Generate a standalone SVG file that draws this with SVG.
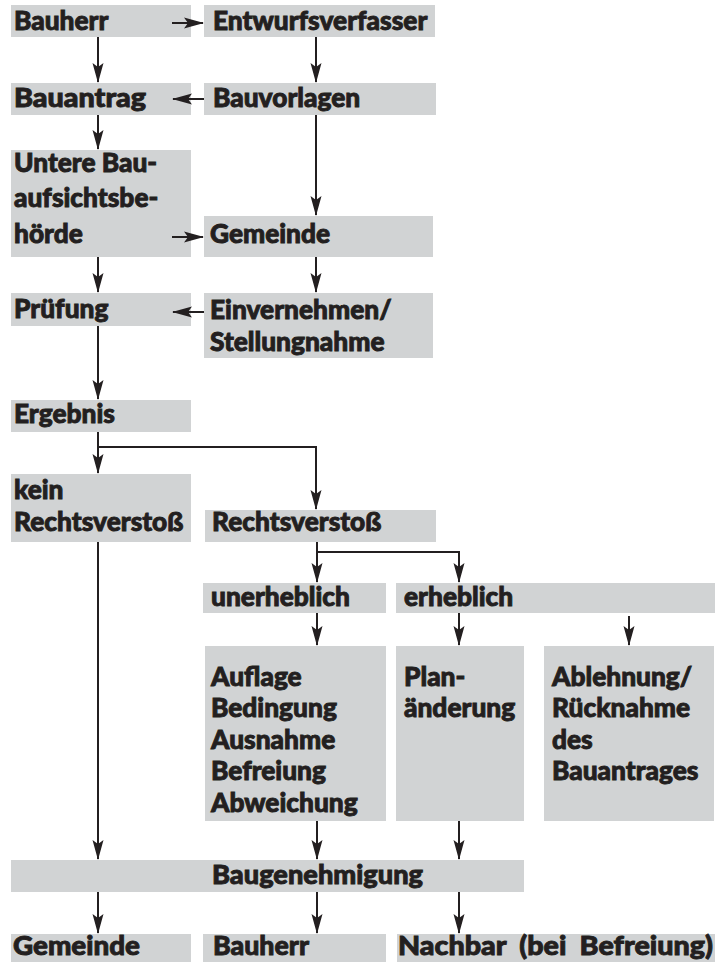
<svg xmlns="http://www.w3.org/2000/svg" width="724" height="962" viewBox="0 0 724 962">
<style>
.b{fill:#d1d3d4}
.t{font-family:Lato,"Open Sans","DejaVu Sans",sans-serif;font-weight:900;font-size:26.3px;fill:#231f20;stroke:#231f20;stroke-width:0.9}
.c{font-size:27px}
.l{stroke:#231f20;stroke-width:2;fill:none;marker-end:url(#ah)}
</style>
<defs>
<marker id="ah" markerUnits="userSpaceOnUse" markerWidth="20" markerHeight="12" viewBox="0 0 20 12" refX="19" refY="6" orient="auto">
<path d="M0,0.5 L20,6 L0,11.5 L4,6 z" fill="#231f20"/>
</marker>
</defs>
<rect width="724" height="962" fill="#fff"/>
<g id="bauherr"><rect class="b" x="11" y="5" width="180" height="32"/><text class="t" x="14" y="30">Bauherr</text></g>
<g id="entwurfsverfasser"><rect class="b" x="204" y="5" width="231" height="32"/><text class="t" x="213" y="30">Entwurfsverfasser</text></g>
<g id="bauantrag"><rect class="b" x="11" y="83" width="180" height="32"/><text class="t" x="14" y="107" textLength="132" lengthAdjust="spacingAndGlyphs">Bauantrag</text></g>
<g id="bauvorlagen"><rect class="b" x="204" y="83" width="232" height="32"/><text class="t" x="213" y="107">Bauvorlagen</text></g>
<g id="untere"><rect class="b" x="11" y="150" width="180" height="107"/>
<text class="t" x="14" y="172">Untere Bau-</text>
<text class="t" x="14" y="207">aufsichtsbe-</text>
<text class="t" x="14" y="243">hörde</text></g>
<g id="gemeinde"><rect class="b" x="204" y="216" width="229" height="41"/><text class="t" x="210" y="243">Gemeinde</text></g>
<g id="pruefung"><rect class="b" x="11" y="293" width="180" height="33"/><text class="t" x="14" y="318">Prüfung</text></g>
<g id="einvernehmen"><rect class="b" x="204" y="293" width="229" height="65"/>
<text class="t" x="210" y="319">Einvernehmen/</text>
<text class="t" x="210" y="351">Stellungnahme</text></g>
<g id="ergebnis"><rect class="b" x="11" y="400" width="180" height="32"/><text class="t" x="14" y="423">Ergebnis</text></g>
<g id="kein"><rect class="b" x="11" y="474" width="180" height="68"/>
<text class="t" x="14" y="499">kein</text>
<text class="t" x="14" y="531">Rechtsverstoß</text></g>
<g id="rechtsverstoss"><rect class="b" x="205" y="510" width="231" height="32"/><text class="t" x="212" y="531">Rechtsverstoß</text></g>
<g id="unerheblich"><rect class="b" x="203" y="583" width="183" height="30"/><text class="t" x="211" y="606">unerheblich</text></g>
<g id="erheblich"><rect class="b" x="396" y="583" width="319" height="30"/><text class="t" x="404" y="606">erheblich</text></g>
<g id="auflage"><rect class="b" x="205" y="646" width="181" height="175"/>
<text class="t" x="211" y="686">Auflage</text>
<text class="t" x="211" y="717">Bedingung</text>
<text class="t" x="211" y="749">Ausnahme</text>
<text class="t" x="211" y="780">Befreiung</text>
<text class="t" x="211" y="812">Abweichung</text></g>
<g id="planaenderung"><rect class="b" x="396" y="646" width="128" height="175"/>
<text class="t" x="404" y="686">Plan-</text>
<text class="t" x="404" y="717">änderung</text></g>
<g id="ablehnung"><rect class="b" x="544" y="646" width="170" height="175"/>
<text class="t" x="552" y="686">Ablehnung/</text>
<text class="t" x="552" y="717">Rücknahme</text>
<text class="t" x="552" y="749">des</text>
<text class="t" x="552" y="780">Bauantrages</text></g>
<g id="baugenehmigung"><rect class="b" x="11" y="860" width="513" height="32"/><text class="t c" x="212" y="884" textLength="211" lengthAdjust="spacingAndGlyphs">Baugenehmigung</text></g>
<g id="gemeinde2"><rect class="b" x="11" y="934" width="180" height="30"/><text class="t c" x="13" y="955" textLength="127" lengthAdjust="spacingAndGlyphs">Gemeinde</text></g>
<g id="bauherr2"><rect class="b" x="203" y="934" width="183" height="30"/><text class="t c" x="213" y="955" textLength="96" lengthAdjust="spacingAndGlyphs">Bauherr</text></g>
<g id="nachbar"><rect class="b" x="397" y="934" width="318" height="30"/><text class="t c" x="398" y="955" textLength="315" lengthAdjust="spacingAndGlyphs" word-spacing="6">Nachbar (bei Befreiung)</text></g>
<g id="connectors">
<line class="l" x1="172" y1="23" x2="203" y2="23"/>
<line class="l" x1="98" y1="37" x2="98" y2="82"/>
<line class="l" x1="316" y1="37" x2="316" y2="82"/>
<line class="l" x1="204" y1="99" x2="173" y2="99"/>
<line class="l" x1="98" y1="115" x2="98" y2="149"/>
<line class="l" x1="316" y1="115" x2="316" y2="215"/>
<line class="l" x1="172" y1="237" x2="203" y2="237"/>
<line class="l" x1="98" y1="257" x2="98" y2="292"/>
<line class="l" x1="316" y1="257" x2="316" y2="292"/>
<line class="l" x1="204" y1="312" x2="173" y2="312"/>
<line class="l" x1="98" y1="326" x2="98" y2="399"/>
<line class="l" x1="98" y1="432" x2="98" y2="473"/>
<path class="l" d="M98,447 H316 V509"/>
<line class="l" x1="98" y1="542" x2="98" y2="859"/>
<line class="l" x1="317" y1="542" x2="317" y2="582"/>
<path class="l" d="M317,552 H459 V582"/>
<line class="l" x1="317" y1="613" x2="317" y2="645"/>
<line class="l" x1="459" y1="613" x2="459" y2="645"/>
<line class="l" x1="629" y1="616" x2="629" y2="645"/>
<line class="l" x1="317" y1="821" x2="317" y2="859"/>
<line class="l" x1="459" y1="821" x2="459" y2="859"/>
<line class="l" x1="98" y1="892" x2="98" y2="933"/>
<line class="l" x1="317" y1="892" x2="317" y2="933"/>
<line class="l" x1="459" y1="892" x2="459" y2="933"/>
</g>
</svg>
